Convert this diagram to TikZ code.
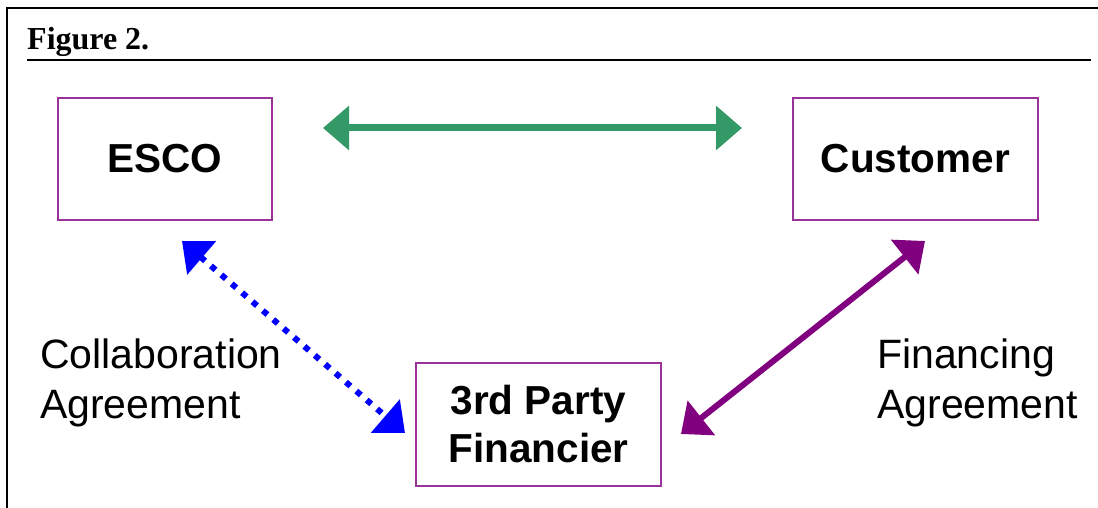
\documentclass[tikz,border=0pt]{standalone}
\usepackage{fontspec}
\setmainfont{Liberation Sans}
\newfontfamily\serifbf{Liberation Serif}
\usetikzlibrary{arrows.meta}
\definecolor{boxpurple}{RGB}{153,51,153}
\definecolor{arrgreen}{RGB}{51,153,102}
\definecolor{arrblue}{RGB}{0,0,255}
\definecolor{arrpurple}{RGB}{128,0,128}
\tikzset{
  entity/.style={draw=boxpurple, line width=2pt, inner sep=0pt, align=center,
    font=\fontsize{40.5}{48}\selectfont\bfseries},
  label/.style={inner sep=0pt, align=left, anchor=north west,
    font=\fontsize{41}{50}\selectfont},
  twotip/.style={{Triangle[length=26pt,width=43pt]}-{Triangle[length=26pt,width=43pt]}},
  frame/.style={line width=2pt, black}
}
\begin{document}
\begin{tikzpicture}[x=1pt,y=-1pt]
\useasboundingbox (0,0) rectangle (1098,508);
% frame
\draw[frame] (1098,8) -- (7,8) -- (7,508);
\node[anchor=base west, inner sep=0pt, font=\fontsize{32}{38}\selectfont\serifbf\bfseries] (fig) at (27,50) {Figure 2.};
\draw[line width=2.5pt] (27,60) -- (1091,60);
% entities
\node[entity, minimum width=214pt, minimum height=122pt] (esco) at (165,159) {ESCO};
\node[entity, minimum width=245pt, minimum height=122pt] (cust) at (915.5,159) {Customer};
\node[entity, minimum width=245pt, minimum height=123pt] (fin) at (538.5,424.5) {3rd Party\\Financier};
% labels
\node[label] (collab) at (40,339) {Collaboration\\Agreement};
\node[label] (financing) at (877,339) {Financing\\Agreement};
% connector ends
\coordinate (g1) at (323,128);
\coordinate (g2) at (742,128);
\coordinate (b1) at (182,241);
\coordinate (b2) at (405,433);
\coordinate (p1) at (925,241);
\coordinate (p2) at (681,434);
% connectors
\draw[twotip, arrgreen, line width=7pt] (g1) -- (g2);
\draw[twotip, arrblue, line width=6pt, dash pattern=on 6pt off 7.7pt] (b1) -- (b2);
\draw[twotip, arrpurple, line width=6pt] (p1) -- (p2);
\end{tikzpicture}
\end{document}
